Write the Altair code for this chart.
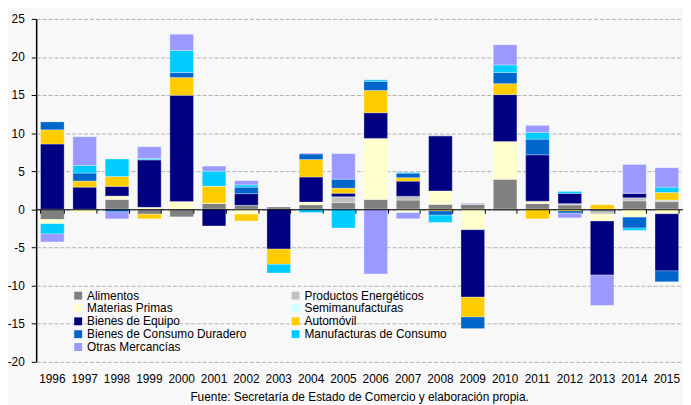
import altair as alt
import pandas as pd

years = [str(y) for y in range(1996, 2016)]

categories = [
    "Alimentos",
    "Productos Energéticos",
    "Materias Primas",
    "Semimanufacturas",
    "Bienes de Equipo",
    "Automóvil",
    "Bienes de Consumo Duradero",
    "Manufacturas de Consumo",
    "Otras Mercancías",
]
colors = ["#808080", "#c0c0c0", "#ffffcc", "#ccffff", "#000080",
          "#ffcc00", "#0066cc", "#00ccff", "#9999ff"]

# legend reading order (two columns, filled row by row in the reference)
legend_order = [
    "Alimentos", "Materias Primas", "Bienes de Equipo",
    "Bienes de Consumo Duradero", "Otras Mercancías",
    "Productos Energéticos", "Semimanufacturas", "Automóvil",
    "Manufacturas de Consumo",
]

#            1996   1997  1998   1999   2000  2001  2002   2003  2004  2005  2006  2007   2008   2009   2010   2011   2012   2013   2014   2015
alimentos = [-1.35, 0.0, 1.3, -0.65, -1.0, 0.78, 0.5, 0.35, 0.6, 0.86, 1.3, 1.2, 0.65, 0.69, 3.93, 0.75, 0.56, -0.35, 1.1, 0.99]
energeticos = [0.0, 0.0, 0.0, 0.0, 0.0, 0.0, 0.0, 0.0, 0.0, 0.78, 0.0, 0.49, 0.0, 0.0, -0.25, 0.0, 0.17, -0.3, 0.4, 0.21]
materias = [-0.55, -0.44, 0.43, 0.25, 1.0, 0.0, -0.65, 0.0, 0.35, 0.0, 8.0, -0.35, 1.75, -2.7, 4.97, 0.3, 0.0, -0.9, -1.04, -0.6]
semimanuf = [0.0, 0.0, 0.0, 0.0, 0.0, 0.0, 0.0, 0.0, 0.0, 0.0, 0.0, -0.1, 0.0, 0.0, 0.0, 0.0, 0.0, 0.0, 0.0, 0.0]
equipo = [8.57, 2.9, 1.27, 6.25, 13.97, -2.2, 1.55, -5.24, 3.28, 0.46, 3.38, 2.0, 7.25, -8.86, 6.16, 6.1, 1.35, -7.1, 0.6, -7.5]
automovil = [1.86, 0.8, 1.3, -0.6, 2.33, 2.25, -0.9, -2.0, 2.3, 0.67, 2.92, 0.45, -0.22, -2.6, 1.44, -1.26, -0.23, 0.65, 0.0, 1.0]
duradero = [1.04, 1.05, -0.35, 0.0, 0.66, 0.0, 0.85, 0.0, 0.74, 1.17, 1.2, 0.6, -0.56, -1.52, 1.46, 2.06, -0.29, 0.0, -1.43, -1.43]
manufacturas = [-1.35, 1.0, 2.3, 0.16, 2.9, 1.97, 0.3, -1.15, -0.44, -2.47, 0.2, 0.1, -0.96, 0.0, 1.0, 0.88, 0.26, 0.0, -0.31, 0.7]
otras = [-1.05, 3.77, -0.92, 1.54, 2.13, 0.66, 0.55, 0.0, 0.1, 3.36, -8.5, -0.8, 0.0, 0.1, 2.64, 0.92, -0.61, -3.99, 3.78, 2.55]

footer = "Fuente: Secretaría de Estado de Comercio y elaboración propia."

series = [alimentos, energeticos, materias, semimanuf, equipo,
          automovil, duradero, manufacturas, otras]

rows = []
for ci, (cat, vals) in enumerate(zip(categories, series)):
    for yr, v in zip(years, vals):
        rows.append({"year": yr, "cat": cat, "value": v, "order": ci})
df = pd.DataFrame(rows)

W, H = 654.5, 346.6
FONT = "Liberation Sans"

x_scale = alt.Scale(paddingInner=0.27, paddingOuter=0.135)

base = alt.Chart(df)

bars = base.mark_bar(stroke="white", strokeWidth=0.5, strokeOpacity=0.6).encode(
    x=alt.X("year:N", sort=years, scale=x_scale,
            axis=alt.Axis(title=None, labelAngle=0, domain=False, ticks=False,
                          labelPadding=12, labelFontSize=12, labelColor="black",
                          labelFont=FONT, grid=False, orient="bottom")),
    y=alt.Y("value:Q", stack="zero",
            scale=alt.Scale(domain=[-20, 25], nice=False),
            axis=alt.Axis(title=None, values=list(range(-20, 30, 5)),
                          labelExpr="'' + datum.value",
                          grid=True, gridDash=[4, 2], gridColor="#b0b0b0",
                          gridWidth=1, domainColor="black", domainWidth=1.5,
                          tickColor="black", tickSize=5, labelPadding=7,
                          labelFontSize=12, labelFont=FONT, labelColor="black")),
    color=alt.Color("cat:N", sort=categories,
                    scale=alt.Scale(domain=categories, range=colors),
                    legend=alt.Legend(orient="none", legendX=36.5, legendY=274,
                                      columns=2, title=None, symbolType="square",
                                      values=legend_order,
                                      symbolSize=64, symbolStrokeWidth=0,
                                      labelFontSize=12, labelFont=FONT,
                                      labelColor="black", labelLimit=300,
                                      columnPadding=43, rowPadding=1,
                                      labelOffset=3, padding=0)),
    order=alt.Order("order:Q", sort="ascending"),
)

zero_axis = base.mark_tick(opacity=0).encode(
    x=alt.X("year:N", sort=years, scale=x_scale,
            axis=alt.Axis(title=None, orient="bottom", offset=-154, labels=False,
                          domain=True, domainColor="black", domainWidth=1,
                          ticks=True, tickBand="extent", tickSize=4,
                          tickColor="black", grid=False, zindex=1)),
)

chart = alt.layer(bars, zero_axis).resolve_axis(x="independent").properties(
    width=W, height=H,
    autosize=alt.AutoSizeParams(type="none"),
    padding={"left": 28.5, "top": 8.7, "right": 0, "bottom": 41.7},
    background="#f8f8f8",
    title=alt.TitleParams(footer, orient="bottom", anchor="middle", fontSize=12,
                          fontWeight="normal", font=FONT, color="black", offset=8),
).configure_view(stroke=None)

chart.save("out.html", embed_options={"renderer": "svg", "actions": False})
